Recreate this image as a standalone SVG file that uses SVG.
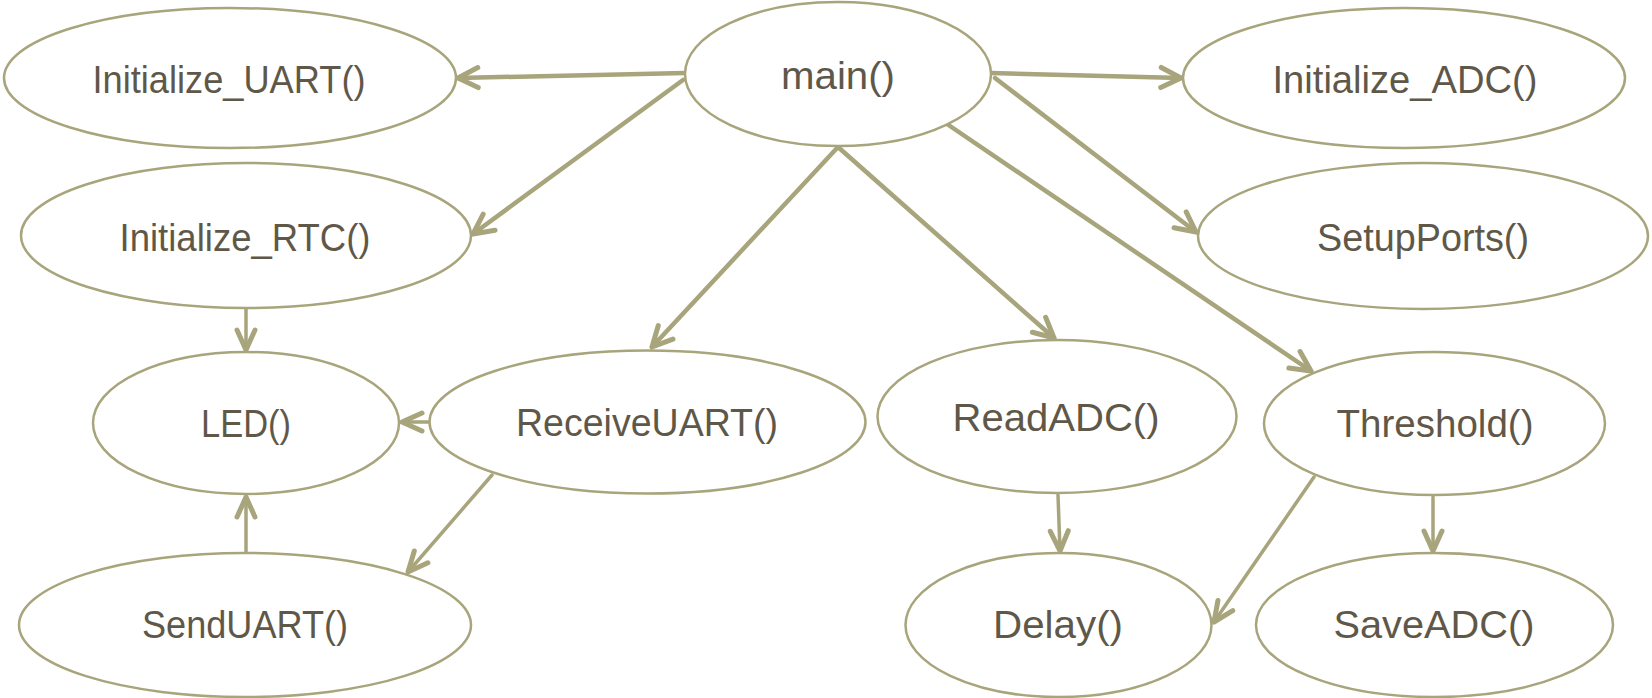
<svg xmlns="http://www.w3.org/2000/svg" width="1652" height="698" viewBox="0 0 1652 698">
  <style>
    .node ellipse { fill: #ffffff; stroke: #a8a47b; stroke-width: 2.5; }
    .node text { font-family: "Liberation Sans", Arial, sans-serif; font-size: 38px; fill: #5f5849; text-anchor: middle; }
    .edge { fill: none; stroke: #a8a47b; stroke-linecap: round; }
    .main-edge { stroke-width: 4.5; marker-end: url(#arrow-lg); }
    .sub-edge { stroke-width: 3.5; marker-end: url(#arrow-sm); }
  </style>
  <defs>
    <marker id="arrow-lg" markerUnits="userSpaceOnUse" markerWidth="40" markerHeight="40" refX="0" refY="0" orient="auto" viewBox="-30 -20 40 40" overflow="visible">
      <path d="M-20,-10 L0,0 L-20,10" fill="none" stroke="#a8a47b" stroke-width="5" stroke-linecap="round" stroke-linejoin="round"/>
    </marker>
    <marker id="arrow-sm" markerUnits="userSpaceOnUse" markerWidth="40" markerHeight="40" refX="0" refY="0" orient="auto" viewBox="-30 -20 40 40" overflow="visible">
      <path d="M-20,-9 L0,0 L-20,9" fill="none" stroke="#a8a47b" stroke-width="5" stroke-linecap="round" stroke-linejoin="round"/>
    </marker>
  </defs>

  <!-- call edges -->
  <g id="connectors">
    <line class="edge main-edge" x1="685" y1="73" x2="458" y2="78"/>
    <line class="edge main-edge" x1="683" y1="80" x2="473" y2="234"/>
    <line class="edge main-edge" x1="991" y1="73" x2="1181" y2="78"/>
    <line class="edge main-edge" x1="995" y1="78" x2="1196" y2="232"/>
    <line class="edge main-edge" x1="838" y1="147" x2="652" y2="347"/>
    <line class="edge main-edge" x1="838" y1="147" x2="1054" y2="338"/>
    <line class="edge main-edge" x1="947" y1="124" x2="1311" y2="371"/>
    <line class="edge sub-edge" x1="246" y1="308" x2="246" y2="350"/>
    <line class="edge sub-edge" x1="430" y1="422" x2="402" y2="422"/>
    <line class="edge sub-edge" x1="492" y1="475" x2="408" y2="572"/>
    <line class="edge sub-edge" x1="246" y1="553" x2="246" y2="497"/>
    <line class="edge sub-edge" x1="1058" y1="495" x2="1060" y2="551"/>
    <line class="edge sub-edge" x1="1314" y1="477" x2="1214" y2="622"/>
    <line class="edge sub-edge" x1="1433" y1="497" x2="1433" y2="551"/>
  </g>

  <g id="main" class="node">
    <ellipse cx="838" cy="74" rx="153" ry="72"/>
    <text x="838" y="89" textLength="114" lengthAdjust="spacingAndGlyphs">main()</text>
  </g>
  <g id="initialize_uart" class="node">
    <ellipse cx="230" cy="78" rx="226" ry="70"/>
    <text x="229" y="93" textLength="273" lengthAdjust="spacingAndGlyphs">Initialize_UART()</text>
  </g>
  <g id="initialize_adc" class="node">
    <ellipse cx="1404" cy="78" rx="221" ry="70"/>
    <text x="1405" y="93" textLength="265" lengthAdjust="spacingAndGlyphs">Initialize_ADC()</text>
  </g>
  <g id="initialize_rtc" class="node">
    <ellipse cx="246" cy="235.5" rx="225" ry="72.5"/>
    <text x="245" y="251" textLength="251" lengthAdjust="spacingAndGlyphs">Initialize_RTC()</text>
  </g>
  <g id="setupports" class="node">
    <ellipse cx="1423" cy="236" rx="225" ry="73"/>
    <text x="1423" y="251" textLength="212" lengthAdjust="spacingAndGlyphs">SetupPorts()</text>
  </g>
  <g id="led" class="node">
    <ellipse cx="246" cy="423" rx="153" ry="71"/>
    <text x="246" y="437" textLength="90" lengthAdjust="spacingAndGlyphs">LED()</text>
  </g>
  <g id="receiveuart" class="node">
    <ellipse cx="647.5" cy="422" rx="218" ry="71.5"/>
    <text x="647" y="436" textLength="262" lengthAdjust="spacingAndGlyphs">ReceiveUART()</text>
  </g>
  <g id="readadc" class="node">
    <ellipse cx="1057" cy="416.5" rx="179.5" ry="76.5"/>
    <text x="1056" y="431" textLength="207" lengthAdjust="spacingAndGlyphs">ReadADC()</text>
  </g>
  <g id="threshold" class="node">
    <ellipse cx="1434.5" cy="423.5" rx="170.5" ry="71.5"/>
    <text x="1435" y="437" textLength="197" lengthAdjust="spacingAndGlyphs">Threshold()</text>
  </g>
  <g id="senduart" class="node">
    <ellipse cx="245" cy="625" rx="226" ry="72"/>
    <text x="245" y="638" textLength="206" lengthAdjust="spacingAndGlyphs">SendUART()</text>
  </g>
  <g id="delay" class="node">
    <ellipse cx="1058.5" cy="625" rx="153" ry="72"/>
    <text x="1058" y="638" textLength="130" lengthAdjust="spacingAndGlyphs">Delay()</text>
  </g>
  <g id="saveadc" class="node">
    <ellipse cx="1434.5" cy="625" rx="178.5" ry="72"/>
    <text x="1434" y="638" textLength="201" lengthAdjust="spacingAndGlyphs">SaveADC()</text>
  </g>
</svg>
